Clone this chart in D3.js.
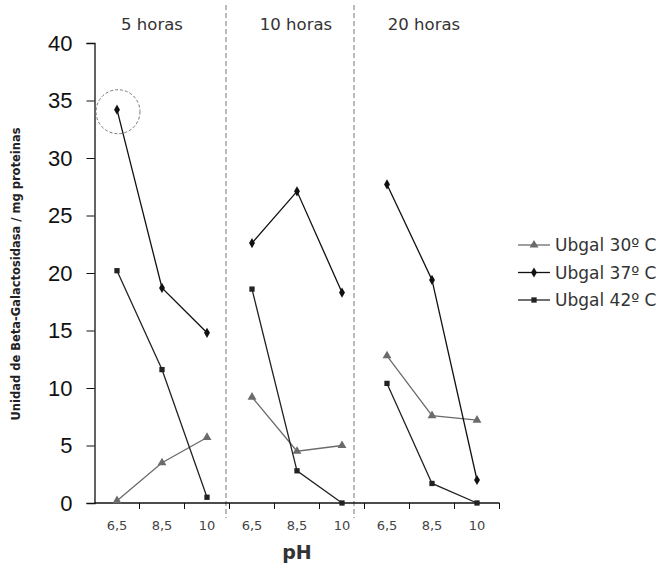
<!DOCTYPE html>
<html>
<head>
<meta charset="utf-8">
<script src="https://cdn.jsdelivr.net/npm/d3@7"></script>
<style>
  body { margin: 0; background: #fff; }
  svg { display: block; font-family: Verdana, "DejaVu Sans", sans-serif; }
</style>
</head>
<body>
<svg id="chart" width="663" height="565"></svg>
<script>
// Data
const groups = ['5 horas', '10 horas', '20 horas'];
const phLabels = ['6,5', '8,5', '10'];
const yTicks = [0, 5, 10, 15, 20, 25, 30, 35, 40];

const ubgal30 = [[0.2, 3.5, 5.7], [9.2, 4.5, 5.0], [12.8, 7.6, 7.2]];
const ubgal37 = [[34.2, 18.7, 14.8], [22.6, 27.1, 18.3], [27.7, 19.4, 2.0]];
const ubgal42 = [[20.2, 11.6, 0.5], [18.6, 2.8, 0.0], [10.4, 1.7, 0.0]];

const seriesNames = ['Ubgal 30º C', 'Ubgal 37º C', 'Ubgal 42º C'];

const series = [
    { name: seriesNames[0], values: ubgal30, color: '#6b6b6b', symbol: d3.symbolTriangle, size: 34 },
    { name: seriesNames[1], values: ubgal37, color: '#111', symbol: d3.symbolDiamond, size: 30 },
    { name: seriesNames[2], values: ubgal42, color: '#222', symbol: d3.symbolSquare, size: 28 }
];

const svg = d3.select('#chart');

// Layout
const plot = { left: 94.5, right: 499.5, top: 43, bottom: 503 };

// 9 category slots (3 pH per group)
const slots = groups.flatMap((g, gi) => phLabels.map((p, pi) => `${gi}|${pi}`));

const x = d3.scaleBand()
    .domain(slots)
    .range([plot.left, plot.right]);

const y = d3.scaleLinear()
    .domain([0, 40])
    .range([plot.bottom, plot.top]);

const cx = (gi, pi) => x(`${gi}|${pi}`) + x.bandwidth() / 2;

// Group separators (dashed)
const sepX = [226, 354];
svg.selectAll('.sep')
    .data(sepX)
    .enter()
    .append('line')
    .attr('x1', d => d).attr('x2', d => d)
    .attr('y1', 5).attr('y2', 518)
    .attr('stroke', '#777')
    .attr('stroke-width', 1)
    .attr('stroke-dasharray', '5,3');

// Group headers
const headerX = [152, 296, 424];
svg.selectAll('.hdr')
    .data(groups)
    .enter()
    .append('text')
    .attr('x', (d, i) => headerX[i])
    .attr('y', 30)
    .attr('text-anchor', 'middle')
    .attr('font-size', 16.5)
    .attr('fill', '#333')
    .text(d => d);

// Y axis
const yAxis = svg.append('g')
    .attr('transform', `translate(${plot.left},0)`)
    .call(d3.axisLeft(y).tickValues(yTicks).tickSize(8).tickPadding(14));
yAxis.select('.domain').attr('stroke', '#111').attr('stroke-width', 1.3);
yAxis.selectAll('.tick line').attr('stroke', '#111');
yAxis.selectAll('text')
    .attr('font-size', 22)
    .attr('font-family', 'Arial, "Liberation Sans", sans-serif')
    .attr('fill', '#111');

// X axis: ticks at slot boundaries, labels at slot centres
const xAxisG = svg.append('g')
    .attr('transform', `translate(0,${plot.bottom})`);
xAxisG.append('line')
    .attr('x1', plot.left).attr('x2', plot.right)
    .attr('stroke', '#111').attr('stroke-width', 1.3);
const boundaries = slots.map(s => x(s) + x.bandwidth());
xAxisG.selectAll('.xt')
    .data(boundaries)
    .enter()
    .append('line')
    .attr('x1', d => d).attr('x2', d => d)
    .attr('y1', 0).attr('y2', 6)
    .attr('stroke', '#111');
xAxisG.selectAll('.xl')
    .data(slots)
    .enter()
    .append('text')
    .attr('x', d => x(d) + x.bandwidth() / 2)
    .attr('y', 27)
    .attr('text-anchor', 'middle')
    .attr('font-size', 13)
    .attr('fill', '#444')
    .text(d => phLabels[+d.split('|')[1]]);

// Axis titles
svg.append('text')
    .attr('x', 297)
    .attr('y', 559)
    .attr('text-anchor', 'middle')
    .attr('font-size', 19)
    .attr('font-weight', 'bold')
    .attr('fill', '#333')
    .text('pH');

svg.append('text')
    .attr('transform', 'translate(20,274) rotate(-90)')
    .attr('text-anchor', 'middle')
    .attr('font-size', 11.5)
    .attr('font-weight', 'bold')
    .attr('fill', '#222')
    .text('Unidad de Beta-Galactosidasa / mg proteinas');

// Series: one polyline per time group
const line = d3.line()
    .x(d => cx(d.gi, d.pi))
    .y(d => y(d.v));

series.forEach(s => {
    s.values.forEach((vals, gi) => {
        const pts = vals.map((v, pi) => ({ gi, pi, v }));
        svg.append('path')
            .datum(pts)
            .attr('d', line)
            .attr('fill', 'none')
            .attr('stroke', s.color)
            .attr('stroke-width', 1.3);
        svg.selectAll(null)
            .data(pts)
            .enter()
            .append('path')
            .attr('transform', d => `translate(${cx(d.gi, d.pi)},${y(d.v)})`)
            .attr('d', d3.symbol().type(s.symbol).size(s.size))
            .attr('fill', s.color);
    });
});

// Dashed circle highlighting the maximum
svg.append('circle')
    .attr('cx', cx(0, 0) + 1)
    .attr('cy', y(ubgal37[0][0]) + 2)
    .attr('r', 22)
    .attr('fill', 'none')
    .attr('stroke', '#777')
    .attr('stroke-width', 1)
    .attr('stroke-dasharray', '3,2');

// Legend
const legend = svg.append('g')
    .attr('transform', 'translate(518,245)');
series.forEach((s, i) => {
    const row = legend.append('g')
        .attr('transform', `translate(0,${i * 27.5})`);
    row.append('line')
        .attr('x1', 0).attr('x2', 32)
        .attr('stroke', s.color).attr('stroke-width', 1.3);
    row.append('path')
        .attr('transform', 'translate(16,0)')
        .attr('d', d3.symbol().type(s.symbol).size(s.size))
        .attr('fill', s.color);
    row.append('text')
        .attr('x', 37)
        .attr('y', 6)
        .attr('font-size', 17)
        .attr('fill', '#333')
        .text(s.name);
});
</script>
</body>
</html>
